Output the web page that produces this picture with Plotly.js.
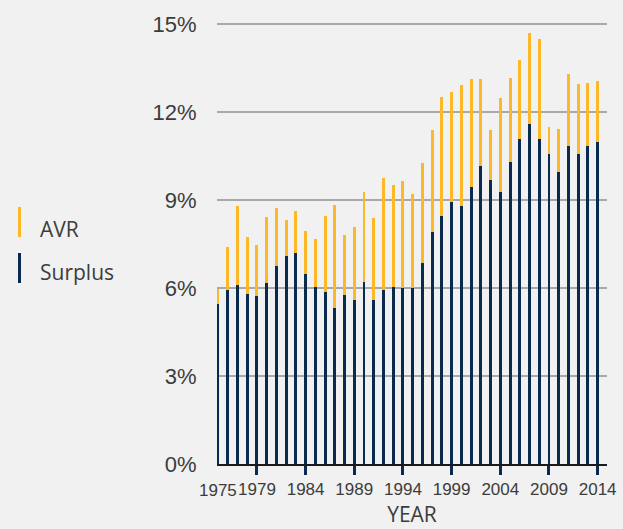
<!DOCTYPE html>
<html>
<head>
<meta charset="utf-8">
<script src="https://cdn.plot.ly/plotly-3.0.1.min.js"></script>
<style>
  html, body { margin: 0; padding: 0; background: #f0f1f0; }
  #chart { width: 623px; height: 529px; }
</style>
</head>
<body>
<div id="chart"></div>
<script>
const years = [1975,1976,1977,1978,1979,1980,1981,1982,1983,1984,
               1985,1986,1987,1988,1989,1990,1991,1992,1993,1994,
               1995,1996,1997,1998,1999,2000,2001,2002,2003,2004,
               2005,2006,2007,2008,2009,2010,2011,2012,2013,2014];
const surplus = [5.44,5.94,6.10,5.78,5.73,6.17,6.76,7.10,7.20,6.47,
                 6.04,5.85,5.32,5.77,5.58,6.21,5.60,5.94,6.03,6.00,
                 5.99,6.85,7.91,8.44,8.93,8.80,9.43,10.14,9.68,9.27,
                 10.28,11.07,11.57,11.07,10.58,9.94,10.84,10.55,10.84,10.96];
const avr = [0.51,1.46,2.68,1.94,1.73,2.24,1.96,1.20,1.42,1.47,
             1.62,2.59,3.49,2.02,2.48,3.05,2.77,3.79,3.47,3.63,
             3.20,3.39,3.46,4.05,3.74,4.11,3.68,2.99,1.69,3.20,
             2.89,2.71,3.10,3.40,0.89,1.46,2.45,2.39,2.16,2.08];
const xTickVals = [1979,1984,1989,1994,1999,2004,2009,2014];
const xTickText = ["1979","1984","1989","1994","1999","2004","2009","2014"];
const firstYearLabel = "1975";
const yTickVals = [0,3,6,9,12,15];
const yTickText = ["0%","3%","6%","9%","12%","15%"];
const seriesNames = ["AVR","Surplus"];

const NAVY = "#0b2a50";
const GOLD = "#fdb827";
const TEXT = "#3c3c3c";
const NARROW = "Liberation Sans Narrow, Arial Narrow, sans-serif";
const SANS = "Open Sans, sans-serif";

const traces = [
  { type: "bar", x: years, y: surplus, name: seriesNames[1], width: 0.3,
    marker: { color: NAVY, line: { width: 0 } }, hoverinfo: "skip" },
  { type: "bar", x: years, y: avr, name: seriesNames[0], width: 0.3,
    marker: { color: GOLD, line: { width: 0 } }, hoverinfo: "skip" }
];

const layout = {
  width: 623, height: 529,
  margin: { l: 217, r: 16, t: 15, b: 65 },
  paper_bgcolor: "#f0f1f0",
  plot_bgcolor: "#f0f1f0",
  barmode: "stack",
  showlegend: false,
  xaxis: {
    range: [1974.9, 2014.96],
    tickmode: "array", tickvals: xTickVals, ticktext: xTickText,
    ticks: "outside", ticklen: 9, tickwidth: 3, tickcolor: NAVY,
    showgrid: false, zeroline: false,
    showline: true, linewidth: 2, linecolor: "#1a1a1a",
    tickfont: { family: NARROW, size: 17, color: TEXT },
    title: { text: "YEAR", font: { family: SANS, size: 21, color: TEXT }, standoff: 9 }
  },
  yaxis: {
    range: [0, 15.3],
    tickmode: "array", tickvals: yTickVals, ticktext: yTickText,
    ticks: "outside", ticklen: 15, tickcolor: "rgba(0,0,0,0)",
    showgrid: true, gridcolor: "#a8a8a8", gridwidth: 1.5,
    zeroline: false, showline: false,
    tickfont: { family: NARROW, size: 22, color: TEXT }
  },
  shapes: [
    { type: "line", xref: "paper", yref: "paper", x0: -0.5064, x1: -0.5064, y0: 0.5055, y1: 0.5724,
      line: { color: GOLD, width: 3 } },
    { type: "line", xref: "paper", yref: "paper", x0: -0.5064, x1: -0.5064, y0: 0.4031, y1: 0.4699,
      line: { color: NAVY, width: 3 } }
  ],
  annotations: [
    { xref: "x", yref: "paper", x: years[0], y: 0, xanchor: "center", yanchor: "top", yshift: -14.5,
      text: firstYearLabel, showarrow: false, font: { family: NARROW, size: 17, color: TEXT } },
    { xref: "paper", yref: "paper", x: -0.459, y: 0.5223, xanchor: "left", yanchor: "middle",
      text: seriesNames[0], showarrow: false, font: { family: SANS, size: 21, color: TEXT } },
    { xref: "paper", yref: "paper", x: -0.459, y: 0.4283, xanchor: "left", yanchor: "middle",
      text: seriesNames[1], showarrow: false, font: { family: SANS, size: 21, color: TEXT } }
  ]
};

Plotly.newPlot("chart", traces, layout, { displayModeBar: false, staticPlot: true });
</script>
</body>
</html>
